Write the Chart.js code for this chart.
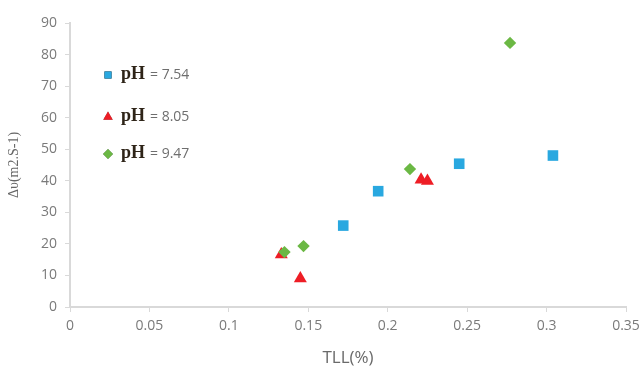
<!DOCTYPE html>
<html>
<head>
<meta charset="utf-8">
<script src="https://cdn.jsdelivr.net/npm/chart.js@4/dist/chart.umd.min.js"></script>
<style>
  html, body { margin: 0; padding: 0; background: #fff; }
  #wrap { width: 640px; height: 368px; position: relative; }
</style>
</head>
<body>
<div id="wrap"><canvas id="chart"></canvas></div>
<script>
// ---------------- Data ----------------
const seriesNames = ["7.54", "8.05", "9.47"];

const tll754 = [0.172, 0.194, 0.245, 0.304];
const dv754  = [25.8, 36.7, 45.4, 48.0];

const tll805 = [0.133, 0.145, 0.221, 0.225];
const dv805  = [16.6, 9.0, 40.3, 39.9];

const tll947 = [0.135, 0.147, 0.214, 0.277];
const dv947  = [17.4, 19.3, 43.7, 83.7];

const xTicks = [0, 0.05, 0.1, 0.15, 0.2, 0.25, 0.3, 0.35];
const yTicks = [0, 10, 20, 30, 40, 50, 60, 70, 80, 90];

const colors = ["#29a8e0", "#ee1d25", "#6bb844"];
const styles = ["rect", "triangle", "rectRot"];
const radii  = [7.5, 7.5, 6.2];

function toPoints(xs, ys) {
    return xs.map((x, i) => ({ x: x, y: ys[i] }));
}

const datasets = [
    toPoints(tll754, dv754),
    toPoints(tll805, dv805),
    toPoints(tll947, dv947)
].map((data, i) => ({
    label: "pH = " + seriesNames[i],
    data: data,
    order: 3 - i, // later series drawn on top
    pointStyle: styles[i],
    pointRadius: radii[i],
    pointHoverRadius: radii[i],
    backgroundColor: colors[i],
    borderColor: colors[i],
    borderWidth: 0,
    showLine: false
}));

// ---------------- Legend (mixed fonts) ----------------
const legendPlugin = {
    id: "phLegend",
    afterDraw(chart) {
        const ctx = chart.ctx;
        const rows = [79, 121, 158];
        const legendRadii = [5, 5.5, 5];
        ctx.save();
        chart.data.datasets.forEach((ds, i) => {
            const y = rows[i];
            Chart.helpers.drawPoint(ctx, {
                pointStyle: ds.pointStyle,
                radius: legendRadii[i],
                rotation: 0,
                borderWidth: 0
            }, 108, y - 4);
            ctx.fillStyle = ds.backgroundColor;
            ctx.fill();

            ctx.fillStyle = "#2e2418";
            ctx.font = "bold 18px 'Liberation Serif'";
            ctx.textBaseline = "alphabetic";
            ctx.textAlign = "left";
            ctx.fillText("pH", 121, y);

            ctx.fillStyle = "#6e6e6e";
            ctx.font = "14px 'Open Sans'";
            ctx.fillText("= " + seriesNames[i], 150, y);
        });
        ctx.restore();
    }
};

// ---------------- Chart ----------------
const tickColor = "#7a7a7a";
const lineColor = "#d9d9d9";

new Chart(document.getElementById("chart"), {
    type: "scatter",
    data: { datasets },
    plugins: [legendPlugin],
    options: {
        responsive: true,
        maintainAspectRatio: false,
        animation: false,
        layout: { padding: { left: 6, right: 14, top: 23, bottom: 0 } },
        plugins: {
            legend: { display: false },
            tooltip: { enabled: false }
        },
        scales: {
            x: {
                type: "linear",
                min: 0,
                max: 0.35,
                afterBuildTicks: (scale) => { scale.ticks = xTicks.map(v => ({ value: v })); },
                afterFit: (scale) => {
                    scale.height = 61;
                    scale.paddingRight = 0;
                    scale.paddingLeft = 0;
                },
                border: { color: lineColor, width: 2 },
                grid: { drawOnChartArea: false, drawTicks: true, tickLength: 5, color: lineColor, lineWidth: 1 },
                ticks: {
                    color: tickColor,
                    font: { family: "'Open Sans'", size: 14 },
                    padding: 6,
                    maxRotation: 0,
                    callback: (v) => String(Math.round(v * 100) / 100)
                },
                title: {
                    display: true,
                    text: "TLL(%)",
                    color: "#6a6a6a",
                    font: { family: "'Open Sans'", size: 17 },
                    padding: { top: 4, bottom: 0 }
                }
            },
            y: {
                type: "linear",
                min: 0,
                max: 90,
                afterBuildTicks: (scale) => { scale.ticks = yTicks.map(v => ({ value: v })); },
                afterFit: (scale) => {
                    scale.width = 64;
                    scale.paddingTop = 0;
                    scale.paddingBottom = 0;
                },
                border: { color: lineColor, width: 2 },
                grid: { drawOnChartArea: false, drawTicks: true, tickLength: 5, color: lineColor, lineWidth: 1 },
                ticks: {
                    color: tickColor,
                    font: { family: "'Open Sans'", size: 14 },
                    padding: 8
                },
                title: {
                    display: true,
                    text: "Δυ(m2.S-1)",
                    color: "#666666",
                    font: { family: "'Liberation Serif'", size: 14 },
                    padding: { top: 0, bottom: 6 }
                }
            }
        }
    }
});
</script>
</body>
</html>
